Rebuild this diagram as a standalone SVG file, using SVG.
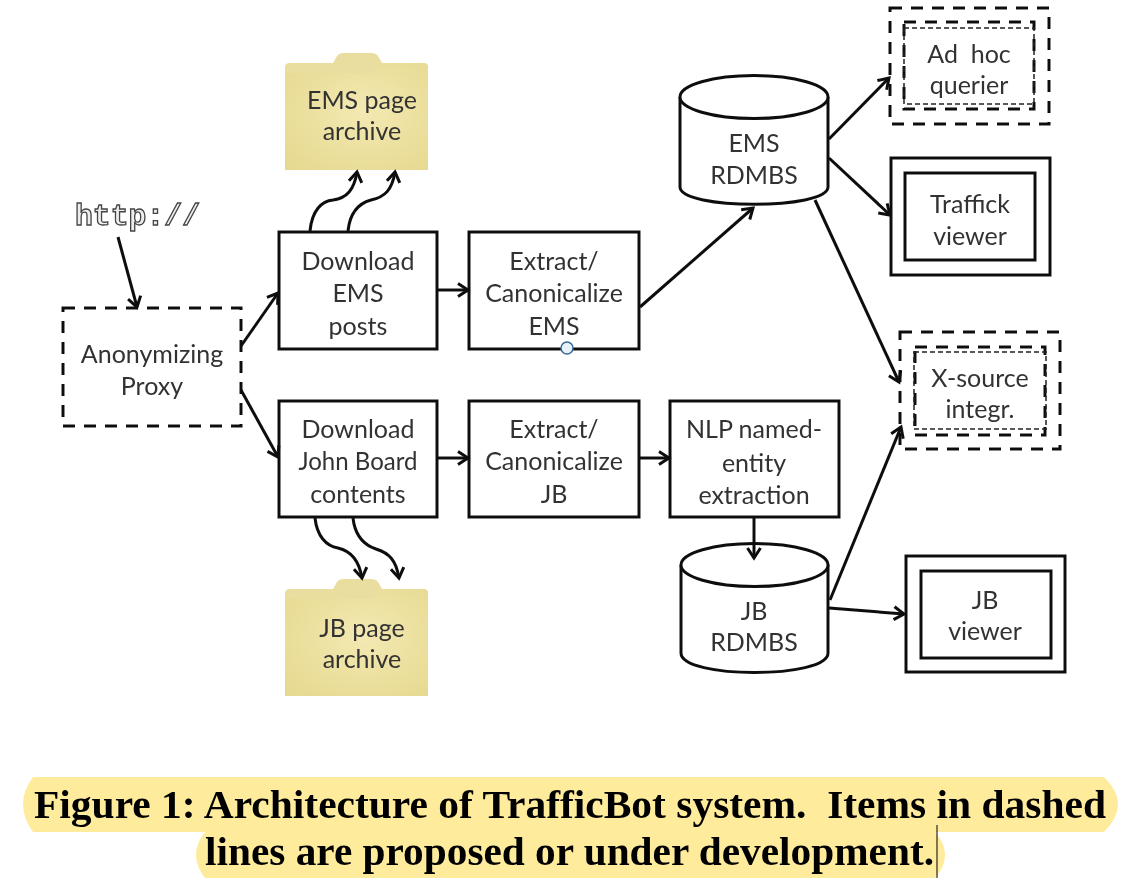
<svg xmlns="http://www.w3.org/2000/svg" width="1128" height="891" viewBox="0 0 1128 891">
<style>
.t{font-family:"Lato","Carlito","Open Sans",sans-serif;font-size:25px;fill:#333;text-anchor:middle}
.b{fill:#fff;stroke:#111;stroke-width:3}
.s{fill:none;stroke:#111;stroke-width:3}
.d{fill:none;stroke:#111;stroke-width:3;stroke-dasharray:12 9}
.h{fill:none;stroke:#222;stroke-width:1.5;stroke-dasharray:5 3}
.c{fill:none;stroke:#111;stroke-width:3;marker-end:url(#a)}
.cap{font-family:"Liberation Serif",serif;font-weight:700;font-size:40px;fill:#000}
</style>
<defs>
<filter id="soft" filterUnits="userSpaceOnUse" x="0" y="0" width="1128" height="891"><feGaussianBlur stdDeviation="0.55"/></filter>
<marker id="a" markerUnits="userSpaceOnUse" markerWidth="18" markerHeight="18" refX="13" refY="8" orient="auto"><path d="M3 1.500L13 8L3 14.500" fill="none" stroke="#111" stroke-width="3"/></marker>
<radialGradient id="f" cx=".55" cy=".45" r=".75"><stop offset="0" stop-color="#f3e9b2"/><stop offset="1" stop-color="#e6d88f"/></radialGradient>
<g id="folder">
<path d="M0 14Q0 10 5 10H48L52 3Q54 0 59 0H86Q91 0 93 3L97 10H138Q143 10 143 14V117H0Z" fill="#e9dd9f"/>
<path d="M0 20H84Q88 20 91 16L95 10H138Q143 10 143 14V117H0Z" fill="url(#f)"/>
</g>
</defs>
<rect width="1128" height="891" fill="#fff"/>
<g filter="url(#soft)">
<g id="http-label"><text x="75" y="225" font-family="Liberation Mono,monospace" font-weight="700" font-size="30" fill="#eee" stroke="#444" stroke-width="1.300" textLength="125" lengthAdjust="spacingAndGlyphs">http://</text></g>
<g id="proxy"><rect class="d" x="63" y="308" width="178" height="118"/><text class="t" x="152" y="363">Anonymizing</text><text class="t" x="152" y="395">Proxy</text></g>
<g id="ems-archive"><use href="#folder" x="285" y="53"/><text class="t" x="362" y="109">EMS page</text><text class="t" x="362" y="140">archive</text></g>
<g id="jb-archive"><use href="#folder" x="285" y="579"/><text class="t" x="362" y="637">JB page</text><text class="t" x="362" y="668">archive</text></g>
<g id="dl-ems"><rect class="b" x="279" y="232" width="158" height="117"/><text class="t" x="358" y="270">Download</text><text class="t" x="358" y="302">EMS</text><text class="t" x="358" y="335">posts</text></g>
<g id="ex-ems"><rect class="b" x="469" y="232" width="170" height="117"/><text class="t" x="554" y="270">Extract/</text><text class="t" x="554" y="302">Canonicalize</text><text class="t" x="554" y="335">EMS</text></g>
<g id="dl-jb"><rect class="b" x="279" y="401" width="158" height="116"/><text class="t" x="358" y="438">Download</text><text class="t" x="358" y="470" textLength="119" lengthAdjust="spacingAndGlyphs">John Board</text><text class="t" x="358" y="503">contents</text></g>
<g id="ex-jb"><rect class="b" x="469" y="401" width="170" height="116"/><text class="t" x="554" y="438">Extract/</text><text class="t" x="554" y="470">Canonicalize</text><text class="t" x="554" y="503">JB</text></g>
<g id="nlp"><rect class="b" x="670" y="401" width="169" height="116"/><text class="t" x="754" y="438">NLP named-</text><text class="t" x="754" y="472">entity</text><text class="t" x="754" y="504">extraction</text></g>
<g id="ems-db"><path class="b" d="M680 97V187C680 210 828 210 828 187V97"/><ellipse class="b" cx="754" cy="97" rx="74" ry="21.500"/><text class="t" x="754" y="152">EMS</text><text class="t" x="754" y="184">RDMBS</text></g>
<g id="jb-db"><path class="b" d="M681 565V653C681 679 828 679 828 653V565"/><ellipse class="b" cx="754.500" cy="565" rx="73.500" ry="21.500"/><text class="t" x="754" y="620">JB</text><text class="t" x="754" y="651">RDMBS</text></g>
<g id="adhoc"><rect class="d" x="890" y="8" width="159" height="116"/><rect class="d" x="904" y="22" width="130" height="87"/><rect class="h" x="904" y="28" width="130" height="76"/><text class="t" x="969" y="63">Ad&#160; hoc</text><text class="t" x="969" y="94">querier</text></g>
<g id="traffick"><rect class="s" x="891" y="158" width="159" height="117"/><rect class="s" x="905" y="173" width="130" height="87"/><text class="t" x="970" y="213">Traffick</text><text class="t" x="970" y="245">viewer</text></g>
<g id="xsource"><rect class="d" x="900" y="332" width="160" height="117"/><rect class="d" x="915" y="347" width="130" height="88"/><rect class="h" x="914" y="352" width="132" height="77"/><text class="t" x="980" y="387">X-source</text><text class="t" x="980" y="418">integr.</text></g>
<g id="jb-viewer"><rect class="s" x="906" y="556" width="159" height="116"/><rect class="s" x="921" y="571" width="130" height="87"/><text class="t" x="985" y="609">JB</text><text class="t" x="985" y="640">viewer</text></g>
<g id="connectors">
<path class="c" d="M118 237L137 307"/>
<path class="c" d="M241 346L278 293"/>
<path class="c" d="M241 390L278 457"/>
<path class="c" d="M310 231C312 210 322 201 333 200C347 198 354 190 357 172"/>
<path class="c" d="M348 231C350 212 360 203 371 200C385 197 392 190 395 172"/>
<path class="c" d="M438 290H468"/>
<path class="c" d="M438 458H468"/>
<path class="c" d="M640 458H669"/>
<path class="c" d="M640 307L753 208"/>
<path class="c" d="M754 518V558"/>
<path class="c" d="M829 139L889 78"/>
<path class="c" d="M829 158L890 215"/>
<path class="c" d="M815 200L899 382"/>
<path class="c" d="M830 600L901 427"/>
<path class="c" d="M829 608L904 614"/>
<path class="c" d="M315 518C317 536 326 546 338 548C351 551 359 560 362 578"/>
<path class="c" d="M353 518C355 536 364 545 376 549C389 553 396 560 399 578"/>
</g>
</g>
<g id="handle"><circle cx="567" cy="348" r="6" fill="#e8f0f8" stroke="#3a6a9a" stroke-width="1.500"/></g>
<g id="caption">
<path d="M33 777H1104Q1132 804 1104 832H935Q955 855 935 878H205Q187 855 205 832H33Q13 804 33 777Z" fill="#feeb9c"/>
<text class="cap" x="34" y="818" textLength="1072" lengthAdjust="spacingAndGlyphs">Figure 1: Architecture of TrafficBot system.&#160; Items in dashed</text>
<text class="cap" x="205" y="865" textLength="729" lengthAdjust="spacingAndGlyphs">lines are proposed or under development.</text>
<path d="M937 825V878" stroke="#000" stroke-width="1"/>
</g>
</svg>
